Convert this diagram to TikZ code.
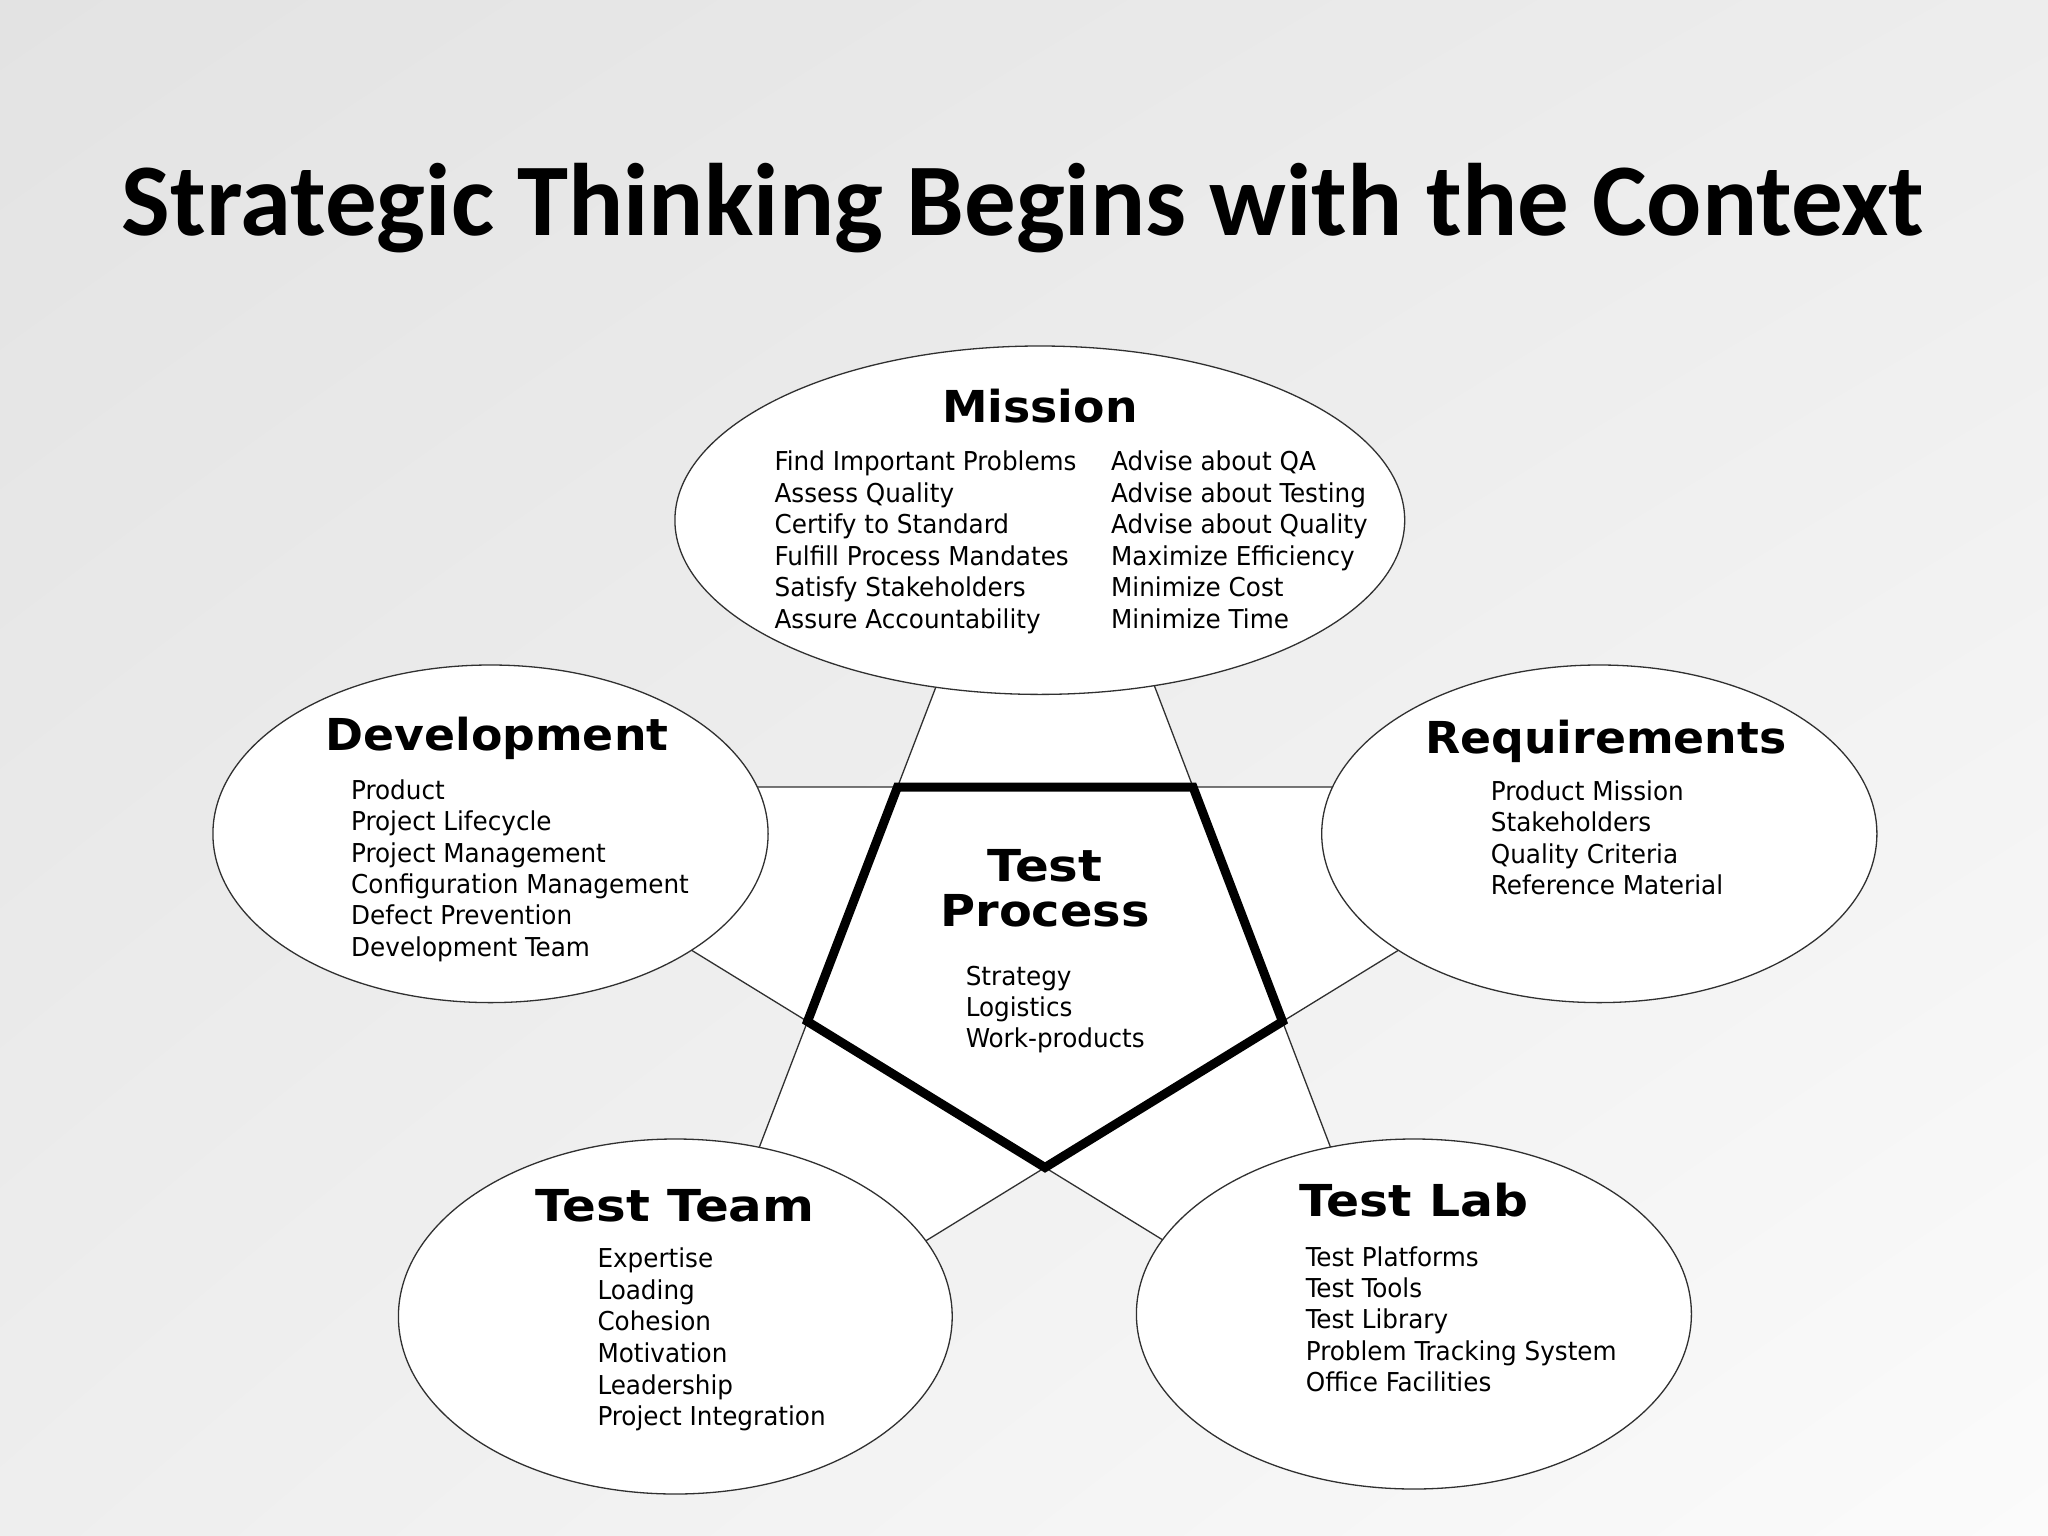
\documentclass[tikz,border=0pt]{standalone}
\usepackage{fontspec}
\setmainfont{DejaVu Sans Condensed}
\newfontfamily\titlefont{Carlito}
\newfontfamily\headfont{DejaVu Sans}[FakeStretch=1.04]
\newfontfamily\bodyfont{DejaVu Sans Condensed}[FakeStretch=1.055]
\usetikzlibrary{shapes.geometric,shadings}
\definecolor{bgA}{HTML}{E3E3E3}
\definecolor{bgB}{HTML}{EDEDED}
\definecolor{bgC}{HTML}{EEEEEE}
\definecolor{bgD}{HTML}{FBFBFB}
\definecolor{linec}{HTML}{303030}
\tikzset{
  thinline/.style={draw=linec, line width=1.3},
  ell/.style={ellipse, draw=linec, line width=1.3, fill=white, inner sep=0, outer sep=0},
  titletext/.style={font=\titlefont\bfseries\fontsize{103}{120}\selectfont, anchor=base, inner sep=0},
  headtext/.style={font=\headfont\bfseries\fontsize{44}{50}\selectfont, anchor=base, inner sep=0},
  itemtext/.style={font=\bodyfont\fontsize{26}{31}\selectfont, anchor=base west, inner sep=0},
}
\begin{document}
\begin{tikzpicture}[x=1pt,y=-1pt]
\useasboundingbox (0,0) rectangle (2048,1536);
\shade[upper left=bgA, upper right=bgB, lower left=bgC, lower right=bgD] (0,0) rectangle (2048,1536);

% inner pentagon vertices
\coordinate (TL) at (897.5,787);
\coordinate (TR) at (1193,787);
\coordinate (R) at (1282.5,1021.5);
\coordinate (B) at (1045,1167.5);
\coordinate (L) at (807.5,1021.5);
% star points
\coordinate (Stop) at (intersection of L--TL and R--TR);
\coordinate (Sright) at (intersection of TL--TR and B--R);
\coordinate (Slr) at (intersection of TR--R and L--B);
\coordinate (Sll) at (intersection of TL--L and R--B);
\coordinate (Sleft) at (intersection of TL--TR and B--L);

\draw[thinline, fill=white] (TL) -- (Stop) -- (TR) -- (Sright) -- (R) -- (Slr) -- (B) -- (Sll) -- (L) -- (Sleft) -- cycle;

% ellipses
\node[ell, minimum width=729.8, minimum height=348.4] (mission) at (1039.8,520.2) {};
\node[ell, minimum width=555.2, minimum height=337.6] (dev) at (490.5,833.8) {};
\node[ell, minimum width=555.2, minimum height=337.6] (req) at (1599.3,833.8) {};
\node[ell, minimum width=553.8, minimum height=355] (team) at (675.3,1316.5) {};
\node[ell, minimum width=555, minimum height=350] (lab) at (1413.9,1314) {};

% thick pentagon
\draw[line width=9, line join=miter, fill=white] (TL) -- (TR) -- (R) -- (B) -- (L) -- cycle;

% title
\node[titletext] (title) at (1023,235) {Strategic Thinking Begins with the Context};

% Mission
\node[headtext] (misH) at (1040,422) {Mission};
\foreach \t [count=\i] in {Find Important Problems, Assess Quality, Certify to Standard, Fulfill Process Mandates, Satisfy Stakeholders, Assure Accountability}
  \node[itemtext] (misA\i) at (774.4,{470.7+31.5*(\i-1)}) {\t};
\foreach \t [count=\i] in {Advise about QA, Advise about Testing, Advise about Quality, Maximize Efficiency, Minimize Cost, Minimize Time}
  \node[itemtext] (misB\i) at (1111,{470.7+31.5*(\i-1)}) {\t};

% Development
\node[headtext] (devH) at (497,750) {Development};
\foreach \t [count=\i] in {Product, Project Lifecycle, Project Management, Configuration Management, Defect Prevention, Development Team}
  \node[itemtext] (devI\i) at (351,{799.3+31.4*(\i-1)}) {\t};

% Requirements
\node[headtext] (reqH) at (1606,753) {Requirements};
\foreach \t [count=\i] in {Product Mission, Stakeholders, Quality Criteria, Reference Material}
  \node[itemtext] (reqI\i) at (1490.7,{800+31.6*(\i-1)}) {\t};

% Test Process
\node[headtext] (tpH1) at (1045,881) {\scalebox{1.09}[1]{Test}};
\node[headtext] (tpH2) at (1045,926.7) {\scalebox{1.046}[1]{Process}};
\foreach \t [count=\i] in {Strategy, Logistics, Work-products}
  \node[itemtext] (tpI\i) at (965.6,{985+31*(\i-1)}) {\t};

% Test Team
\node[headtext] (teamH) at (675,1221.7) {\scalebox{1.09}[1]{Test Team}};
\foreach \t [count=\i] in {Expertise, Loading, Cohesion, Motivation, Leadership, Project Integration}
  \node[itemtext] (teamI\i) at (597.3,{1267.7+31.6*(\i-1)}) {\t};

% Test Lab
\node[headtext] (labH) at (1414,1216) {\scalebox{1.068}[1]{Test Lab}};
\foreach \t [count=\i] in {Test Platforms, Test Tools, Test Library, Problem Tracking System, Office Facilities}
  \node[itemtext] (labI\i) at (1305.7,{1266+31.4*(\i-1)}) {\t};
\end{tikzpicture}
\end{document}
